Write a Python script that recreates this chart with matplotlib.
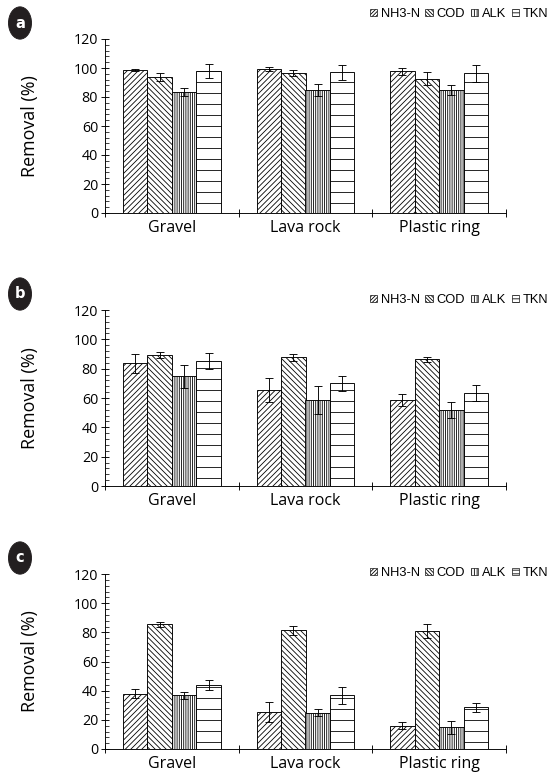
import matplotlib.pyplot as plt
import matplotlib.patches as mpatches
import numpy as np

plt.rcParams['hatch.linewidth'] = 0.9
plt.rcParams['hatch.color'] = '#222222'

categories = ['Gravel', 'Lava rock', 'Plastic ring']
series = ['NH3-N', 'COD', 'ALK', 'TKN']

# panel a
a_vals = [[98.6, 99.3, 97.7],   # NH3-N
          [93.8, 96.6, 92.5],   # COD
          [83.5, 85.0, 85.0],   # ALK
          [97.9, 97.0, 96.4]]   # TKN
a_errs = [[1.0, 1.5, 2.5],
          [2.5, 2.0, 4.5],
          [3.0, 4.0, 3.5],
          [5.0, 5.0, 6.0]]
# panel b
b_vals = [[83.6, 65.5, 58.8],
          [89.4, 87.8, 86.3],
          [74.8, 58.8, 52.0],
          [85.0, 69.9, 63.3]]
b_errs = [[6.5, 8.0, 4.0],
          [2.0, 2.5, 1.5],
          [8.0, 9.5, 5.5],
          [5.5, 5.0, 5.5]]
# panel c
c_vals = [[38.0, 25.5, 16.0],
          [85.4, 81.5, 80.9],
          [36.7, 25.0, 14.8],
          [44.0, 36.7, 28.7]]
c_errs = [[3.0, 7.0, 2.5],
          [2.0, 3.0, 4.5],
          [2.5, 2.5, 4.5],
          [3.5, 6.0, 3.0]]

hatches = ['////', '\\\\\\\\', '|||||', '-']

W, H = 550, 772
DPI = 66
fig = plt.figure(figsize=(W / DPI, H / DPI), dpi=DPI)

tick_font = 'Open Sans'
leg_font = 'Liberation Sans'


def panel(top, bottom, vals, errs, letter, leg_y):
    left, right = 105, 506
    ax = fig.add_axes([left / W, 1 - bottom / H, (right - left) / W, (bottom - top) / H])
    x = np.arange(len(categories))
    w = 0.183
    for j in range(len(series)):
        ax.bar(x + (j - 1.5) * w, vals[j], w, yerr=errs[j], color='white',
               edgecolor='black', linewidth=1.0, hatch=hatches[j],
               error_kw=dict(ecolor='black', elinewidth=1.0, capsize=4.5, capthick=1.0),
               label=series[j])
    ax.set_xlim(-0.5, 2.5)
    ax.set_ylim(0, 120)
    ax.set_yticks(range(0, 121, 20))
    ax.set_yticks(range(0, 121, 4), minor=True)
    ax.set_xticks(x)
    ax.set_xticklabels(categories, fontsize=17.5, family=tick_font)
    ax.set_xticks([-0.5, 0.5, 1.5, 2.5], minor=True)
    for lab in ax.get_yticklabels():
        lab.set_fontsize(15.5)
        lab.set_family(tick_font)
    ax.tick_params(axis='x', which='major', length=0, pad=8)
    ax.tick_params(axis='x', which='minor', direction='inout', length=8, width=1)
    ax.tick_params(axis='y', which='major', direction='inout', length=9, width=1, pad=3)
    ax.tick_params(axis='y', which='minor', direction='in', length=4, width=0.8)
    for s in ['top', 'right']:
        ax.spines[s].set_visible(False)
    ax.spines['left'].set_linewidth(1)
    ax.spines['bottom'].set_linewidth(1)
    ax.set_ylabel('Removal (%)', fontsize=19.5, family=tick_font)
    ax.yaxis.set_label_coords(-0.165, 0.5)

    # legend
    handles = [mpatches.Patch(facecolor='white', edgecolor='black', hatch=h, linewidth=0.7)
               for h in ['//////', '\\\\\\\\\\\\', '||||', '---']]
    ax.legend(handles, series, loc='center right', bbox_to_anchor=(548 / W, 1 - leg_y / H),
              bbox_transform=fig.transFigure, ncol=4, frameon=False,
              prop=dict(family=leg_font, size=14), handlelength=0.55, handleheight=0.55,
              handletextpad=0.3, columnspacing=0.45, borderpad=0, borderaxespad=0)

    # panel letter
    fig.patches.append(mpatches.Circle((20 / W, 1 - (top - 16) / H), 11.5 / W,
                                       transform=fig.transFigure, color='#231f20'))
    fig.text(20 / W, 1 - (top - 16) / H, letter, color='white', fontsize=16,
             fontweight='bold', ha='center', va='center', family='DejaVu Sans')
    return ax


panel(39, 213, a_vals, a_errs, 'a', 14)
panel(310, 486, b_vals, b_errs, 'b', 300)
panel(574, 749, c_vals, c_errs, 'c', 573)

fig.savefig('out.png', dpi=DPI)
